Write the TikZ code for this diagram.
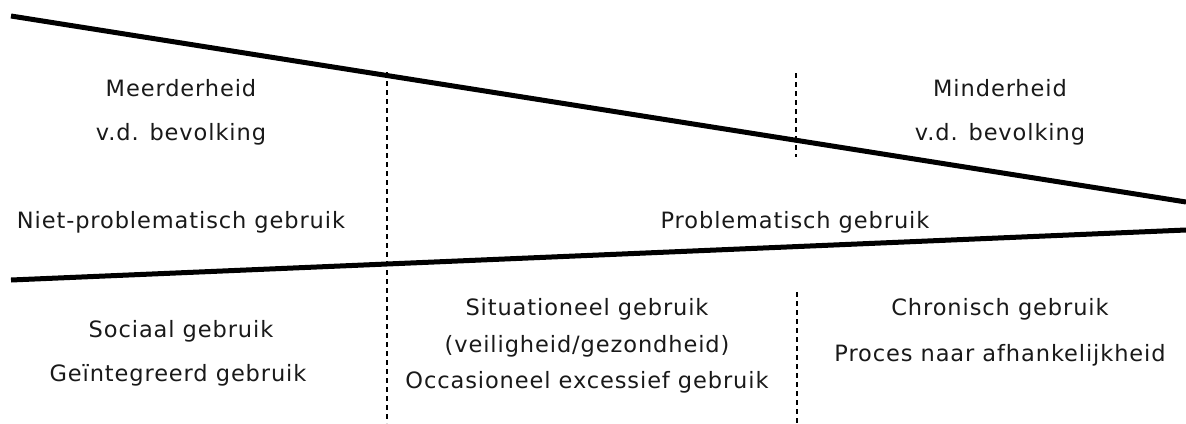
\documentclass[tikz,border=0pt]{standalone}
\usepackage{fontspec}
\setmainfont[LetterSpace=4]{DejaVu Sans}
\begin{document}
\begin{tikzpicture}[x=1pt,y=-1pt,
  thick line/.style={line width=5pt},
  sep line/.style={line width=1.8pt, dash pattern=on 5pt off 4pt},
  lbl/.style={anchor=base, inner sep=0pt, font=\fontsize{22.5}{26}\selectfont, text=black!90}]
\useasboundingbox (0,0) rectangle (1186,423);
% main lines
\coordinate (t1) at (11,16);
\coordinate (t2) at (1186,202);
\coordinate (b1) at (11,280);
\coordinate (b2) at (1186,230);
\draw[thick line] (t1) -- (t2);
\draw[thick line] (b1) -- (b2);
% dashed separators
\coordinate (d1a) at (387,72);
\coordinate (d1b) at (387,423);
\coordinate (d2a) at (796,73);
\coordinate (d2b) at (796,157);
\coordinate (d3a) at (797,292);
\coordinate (d3b) at (797,423);
\draw[sep line] (d1a) -- (d1b);
\draw[sep line] (d2a) -- (d2b);
\draw[sep line] (d3a) -- (d3b);
% labels
\node[lbl] (meer) at (181,96) {Meerderheid};
\node[lbl] (vd1) at (181,140) {v.d. bevolking};
\node[lbl] (mind) at (1000,96) {Minderheid};
\node[lbl] (vd2) at (1000,140) {v.d. bevolking};
\node[lbl] (np) at (181,228) {Niet-problematisch gebruik};
\node[lbl] (pg) at (795,228) {Problematisch gebruik};
\node[lbl] (soc) at (181,337) {Sociaal gebruik};
\node[lbl] (gei) at (178,381) {Geïntegreerd gebruik};
\node[lbl] (sit) at (587,315) {Situationeel gebruik};
\node[lbl] (vei) at (587,352) {(veiligheid/gezondheid)};
\node[lbl] (occ) at (587,388) {Occasioneel excessief gebruik};
\node[lbl] (chr) at (1000,315) {Chronisch gebruik};
\node[lbl] (pro) at (1000,361) {Proces naar afhankelijkheid};
\end{tikzpicture}
\end{document}
